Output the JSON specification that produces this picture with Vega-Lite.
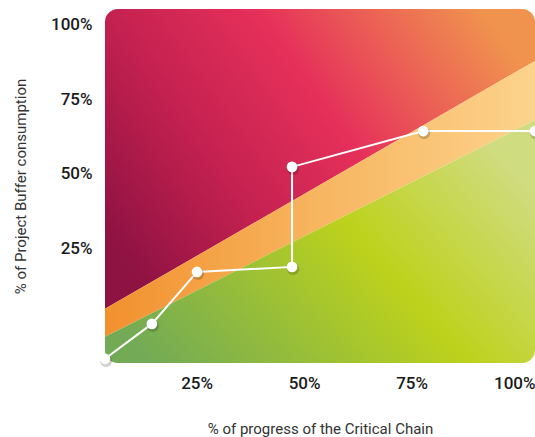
{
  "$schema": "https://vega.github.io/schema/vega-lite/v6.json",
  "width": 430,
  "height": 354,
  "autosize": {"type": "none"},
  "padding": {"left": 105, "top": 9, "right": 10, "bottom": 74},
  "background": "white",
  "datasets": {
    "zones": [
      {"progress": 0, "bottom": -13.4, "greenTop": -4.6, "orangeTop": 4.75, "top": 105.2},
      {"progress": 100, "bottom": -13.4, "greenTop": 68.0, "orangeTop": 87.8, "top": 105.2}
    ],
    "track": [
      {"step": 1, "progress": 0, "consumption": -12.0},
      {"step": 2, "progress": 10.9, "consumption": -0.3},
      {"step": 3, "progress": 21.4, "consumption": 17.1},
      {"step": 4, "progress": 43.5, "consumption": 18.8},
      {"step": 5, "progress": 43.5, "consumption": 52.3},
      {"step": 6, "progress": 74.0, "consumption": 64.3},
      {"step": 7, "progress": 100, "consumption": 64.3}
    ],
    "frame": [{"name": "plot"}]
  },
  "encoding": {
    "x": {
      "type": "quantitative",
      "scale": {"domain": [0, 100], "nice": false, "zero": false},
      "axis": {
        "values": [25, 50, 75, 100],
        "labelExpr": "datum.value + '%'",
        "labelAlign": "right",
        "labelDx": 5,
        "labelPadding": 12,
        "title": "% of progress of the Critical Chain",
        "titlePadding": 30
      }
    },
    "y": {
      "type": "quantitative",
      "scale": {"domain": [-13.4, 105.2], "nice": false, "zero": false},
      "axis": {
        "values": [25, 50, 75, 100],
        "labelExpr": "datum.value + '%'",
        "labelPadding": 13,
        "labelBaseline": "middle",
        "title": "% of Project Buffer consumption",
        "titlePadding": 22
      }
    }
  },
  "layer": [
    {
      "data": {"name": "zones"},
      "mark": {
        "type": "area",
        "fill": {
          "gradient": "linear", "x1": 0, "y1": 0.75, "x2": 1, "y2": 0.25,
          "stops": [
            {"offset": 0, "color": "#8e1242"},
            {"offset": 0.3, "color": "#c42150"},
            {"offset": 0.58, "color": "#e5305a"},
            {"offset": 0.8, "color": "#ec6555"},
            {"offset": 1, "color": "#f0934e"}
          ]
        }
      },
      "encoding": {
        "x": {"field": "progress"},
        "y": {"field": "top"},
        "y2": {"field": "orangeTop"}
      }
    },
    {
      "data": {"name": "zones"},
      "mark": {
        "type": "area",
        "fill": {
          "gradient": "linear", "x1": 0, "y1": 0.5, "x2": 1, "y2": 0.5,
          "stops": [
            {"offset": 0, "color": "#f2902e"},
            {"offset": 0.5, "color": "#f7b660"},
            {"offset": 1, "color": "#fcd38c"}
          ]
        }
      },
      "encoding": {
        "x": {"field": "progress"},
        "y": {"field": "orangeTop"},
        "y2": {"field": "greenTop"}
      }
    },
    {
      "data": {"name": "zones"},
      "mark": {
        "type": "area",
        "fill": {
          "gradient": "linear", "x1": 0, "y1": 0.8, "x2": 1, "y2": 0.3,
          "stops": [
            {"offset": 0, "color": "#72aa56"},
            {"offset": 0.6, "color": "#bdd21c"},
            {"offset": 1, "color": "#d0dc80"}
          ]
        }
      },
      "encoding": {
        "x": {"field": "progress"},
        "y": {"field": "greenTop"},
        "y2": {"field": "bottom"}
      }
    },
    {
      "data": {"name": "frame"},
      "mark": {
        "type": "rect",
        "filled": false,
        "stroke": "white",
        "strokeWidth": 8,
        "cornerRadius": 17,
        "xOffset": -4,
        "x2Offset": 4,
        "yOffset": -4,
        "y2Offset": 4
      },
      "encoding": {
        "x": {"datum": 0},
        "x2": {"datum": 100},
        "y": {"datum": 105.2},
        "y2": {"datum": -13.4}
      }
    },
    {
      "data": {"name": "track"},
      "mark": {"type": "line", "color": "white", "strokeWidth": 2},
      "encoding": {
        "x": {"field": "progress"},
        "y": {"field": "consumption"},
        "order": {"field": "step"}
      }
    },
    {
      "data": {"name": "track"},
      "mark": {"type": "circle", "color": "#000000", "opacity": 0.18, "size": 150, "xOffset": 1, "yOffset": 2},
      "encoding": {
        "x": {"field": "progress"},
        "y": {"field": "consumption"}
      }
    },
    {
      "data": {"name": "track"},
      "mark": {"type": "circle", "color": "white", "opacity": 1, "size": 115},
      "encoding": {
        "x": {"field": "progress"},
        "y": {"field": "consumption"}
      }
    }
  ],
  "config": {
    "view": {"stroke": null},
    "axis": {
      "domain": false,
      "ticks": false,
      "grid": false,
      "zindex": 1,
      "labelFont": "Roboto",
      "labelFontSize": 17,
      "labelFontWeight": 500,
      "labelColor": "#1a1a1a",
      "titleFont": "Roboto",
      "titleFontSize": 15,
      "titleFontWeight": "normal",
      "titleColor": "#333333"
    }
  }
}
